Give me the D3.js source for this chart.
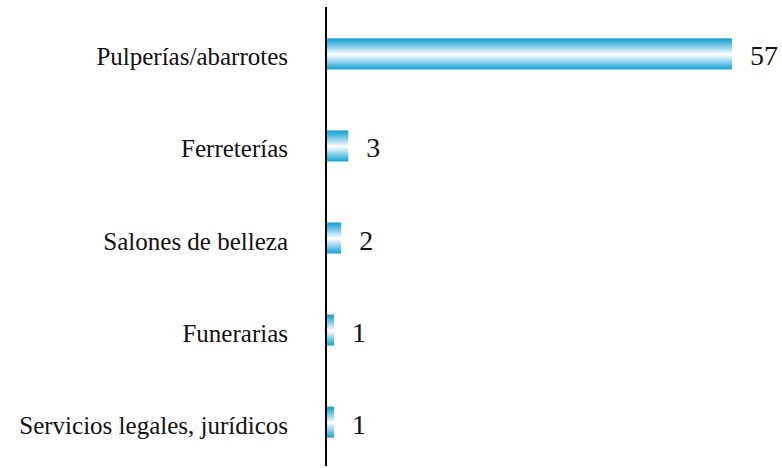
<!DOCTYPE html>
<html>
<head>
<meta charset="UTF-8">
<script src="https://cdn.jsdelivr.net/npm/d3@7"></script>
<style>
  body { margin:0; background:#fff; }
</style>
</head>
<body>
<svg id="chart" width="782" height="468"></svg>
<script>
// datos del grafico
var categorias = ["Pulperías/abarrotes", "Ferreterías", "Salones de belleza", "Funerarias", "Servicios legales, jurídicos"];
var valores = [57, 3, 2, 1, 1];

var svg = d3.select("#chart");
var x0 = 327;

var x = d3.scaleLinear().domain([0, 57]).range([x0, 732]);
var y = d3.scaleBand().domain(categorias).range([8, 468]).paddingInner(0.663).paddingOuter(0.33);

// degradado de las barras
var grad = svg.append("defs").append("linearGradient")
    .attr("id", "barGrad").attr("x1", 0).attr("y1", 0).attr("x2", 0).attr("y2", 1);
grad.append("stop").attr("offset", "0%").attr("stop-color", "#0c9dd2");
grad.append("stop").attr("offset", "52%").attr("stop-color", "#ffffff");
grad.append("stop").attr("offset", "100%").attr("stop-color", "#12a2d6");

var filas = categorias.map(function(c, i){ return {cat:c, val:valores[i]}; });

svg.selectAll("rect.bar")
    .data(filas)
    .enter().append("rect")
    .attr("class", "bar")
    .attr("x", x(0))
    .attr("y", function(d){ return y(d.cat); })
    .attr("width", function(d){ return x(d.val) - x(0); })
    .attr("height", y.bandwidth())
    .attr("fill", "url(#barGrad)");

// eje vertical
svg.append("line")
    .attr("x1", x0 - 1).attr("x2", x0 - 1)
    .attr("y1", 7).attr("y2", 466)
    .attr("stroke", "#000").attr("stroke-width", 2);

// etiquetas de categoria
svg.selectAll("text.cat")
    .data(filas)
    .enter().append("text")
    .attr("class", "cat")
    .attr("x", 288)
    .attr("y", function(d){ return y(d.cat) + y.bandwidth()/2 + 11.5; })
    .attr("text-anchor", "end")
    .style("font-family", "'Liberation Serif'")
    .style("font-size", "25px")
    .style("fill", "#111")
    .text(function(d){ return d.cat; });

// valores
svg.selectAll("text.val")
    .data(filas)
    .enter().append("text")
    .attr("class", "val")
    .attr("x", function(d){ return x(d.val) + 18; })
    .attr("y", function(d){ return y(d.cat) + y.bandwidth()/2 + 11.5; })
    .style("font-family", "'Liberation Serif'")
    .style("font-size", "28px")
    .style("fill", "#111")
    .text(function(d){ return d.val; });
</script>
</body>
</html>
